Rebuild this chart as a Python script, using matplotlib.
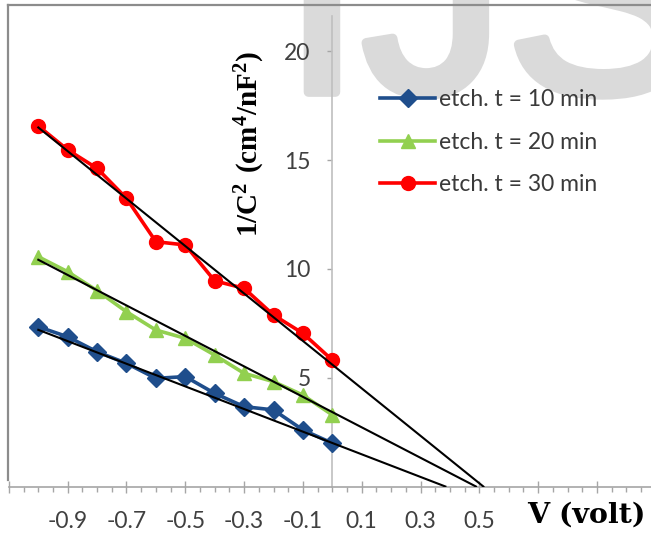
"""Mott-Schottky style plot: 1/C^2 vs V for three etching times."""

import numpy as np
import matplotlib
matplotlib.use("Agg")
import matplotlib.pyplot as plt
import matplotlib.patheffects as pe
from matplotlib.lines import Line2D
from matplotlib.ticker import MultipleLocator, FuncFormatter

plt.rcParams["font.family"] = ["Lato", "DejaVu Sans"]
plt.rcParams["mathtext.fontset"] = "custom"
plt.rcParams["mathtext.bf"] = "Liberation Serif:bold"
plt.rcParams["mathtext.rm"] = "Liberation Serif"

voltage = [-1.0, -0.9, -0.8, -0.7, -0.6, -0.5, -0.4, -0.3, -0.2, -0.1, 0.0]
inv_c2_10 = [7.34, 6.88, 6.19, 5.66, 4.97, 5.05, 4.28, 3.67, 3.52, 2.60, 1.99]
inv_c2_20 = [10.56, 9.87, 9.00, 8.03, 7.19, 6.81, 6.04, 5.20, 4.82, 4.20, 3.29]
inv_c2_30 = [16.57, 15.47, 14.62, 13.24, 11.25, 11.10, 9.45, 9.11, 7.88, 7.04, 5.81]

labels = ["etch. t = 10 min", "etch. t = 20 min", "etch. t = 30 min"]
colors = ["#1F4E8C", "#92D050", "#FF0000"]
markers = ["D", "^", "o"]
marker_sizes = [9, 10, 10]

# linear fits: 1/C^2 = offset + slope * V
fit_slope = [-5.2, -7.0, -10.9]
fit_offset = [2.0, 3.42, 5.6]

W, H = 651, 533
fig = plt.figure(figsize=(W / 100, H / 100), dpi=100)

x0_px, px_per_v = 332.3, 294.0
y0_px, px_per_unit = 486.5, 21.76
xmin, xmax = -1.1, (W - x0_px) / px_per_v
ymax = 21.6
left_px = x0_px + xmin * px_per_v
ax = fig.add_axes([left_px / W, (H - y0_px) / H,
                   (W - left_px) / W, ymax * px_per_unit / H])
ax.patch.set_alpha(0)

# watermark behind everything
fig.text(282 / W, (H - 92) / H, "IJS", fontsize=207, family="Liberation Sans",
         color="#DADADA", ha="left", va="baseline", zorder=-1,
         path_effects=[pe.withStroke(linewidth=7, foreground="#DADADA")])

series = [inv_c2_10, inv_c2_20, inv_c2_30]
for vals, lab, col, mk, ms in zip(series, labels, colors, markers, marker_sizes):
    ax.plot(voltage, vals, color=col, marker=mk, markersize=ms, lw=2.6,
            label=lab, zorder=3)

for slope, off in zip(fit_slope, fit_offset):
    v_end = -off / slope
    vv = np.array([voltage[0], v_end])
    ax.plot(vv, off + slope * vv, color="black", lw=1.5, zorder=4)

ax.set_xlim(xmin, xmax)
ax.set_ylim(0, ymax)

for side in ["top", "right"]:
    ax.spines[side].set_visible(False)
ax.spines["left"].set_position(("data", 0))
ax.spines["left"].set_color("#BFBFBF")
ax.spines["left"].set_linewidth(1.2)
ax.spines["bottom"].set_color("#A6A6A6")
ax.spines["bottom"].set_linewidth(1.2)

ax.set_yticks([5, 10, 15, 20])
ax.tick_params(axis="y", direction="out", length=3.6, width=1, pad=12,
               color="#A6A6A6", labelcolor="#404040", labelsize=16.5)

ax.xaxis.set_major_locator(MultipleLocator(0.2, offset=0.1))
ax.xaxis.set_minor_locator(MultipleLocator(0.05))
ax.xaxis.set_major_formatter(FuncFormatter(
    lambda v, pos: f"{v:.1f}" if -1.0 < v < 0.6 else ""))
ax.tick_params(axis="x", which="major", direction="inout", length=9, width=1,
               pad=13, color="#A6A6A6", labelcolor="#404040", labelsize=16.5)
ax.tick_params(axis="x", which="minor", direction="out", length=3.6, width=1,
               color="#A6A6A6")

leg = ax.legend(loc="upper left", bbox_to_anchor=(380 / W, (H - 89) / H),
                bbox_transform=fig.transFigure, frameon=False, fontsize=16.5,
                handlelength=2.4, handletextpad=0.17, labelspacing=0.94,
                borderpad=0, borderaxespad=0)
for t in leg.get_texts():
    t.set_color("#3A3A3A")

fig.text(250 / W, (H - 144) / H, r"$\mathbf{1/C^{2}\ (cm^{4}/nF^{2})}$",
         rotation=90, ha="center", va="center", fontsize=21)
fig.text(527 / W, (H - 523) / H, "V (volt)", family="DejaVu Serif",
         weight="bold", fontsize=20.5, ha="left", va="baseline")

# outer chart frame
frame = "#8C8C8C"
fig.add_artist(Line2D([8 / W, 1], [1 - 5 / H] * 2, transform=fig.transFigure,
                      color=frame, lw=1.6))
fig.add_artist(Line2D([8 / W] * 2, [1 - 5 / H, 1 - 480 / H],
                      transform=fig.transFigure, color=frame, lw=1.6))

fig.savefig("out.png", dpi=100)
